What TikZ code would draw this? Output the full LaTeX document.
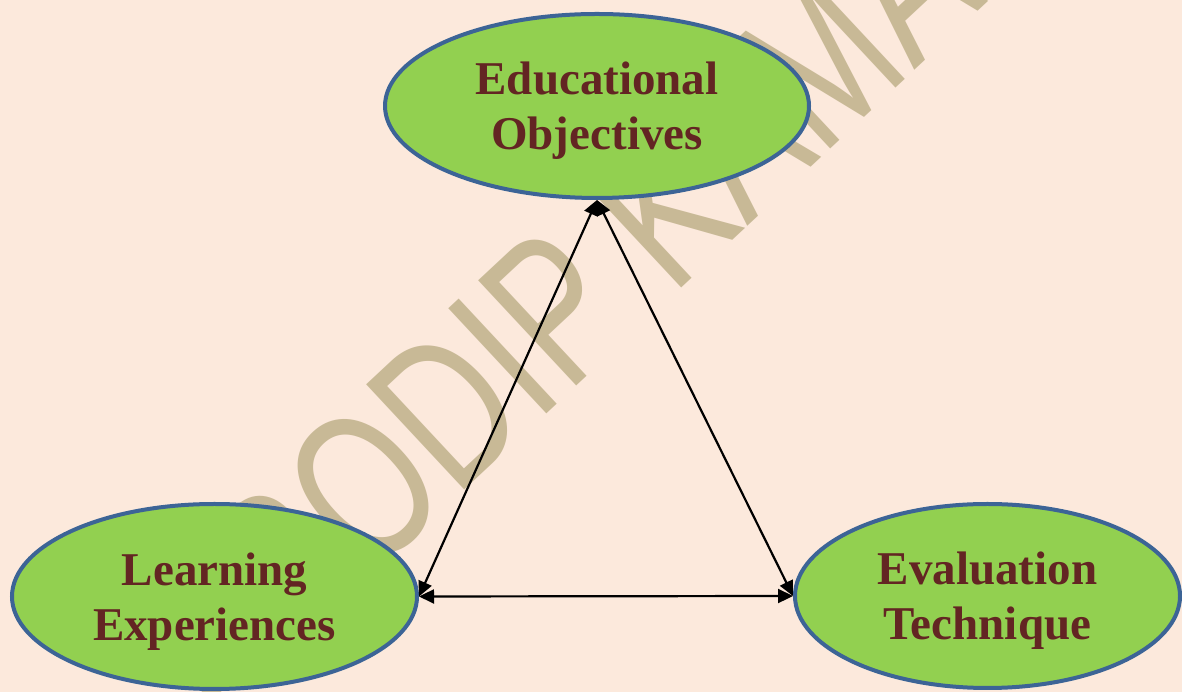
\documentclass[tikz,border=0pt]{standalone}
\usepackage{fontspec}
\setmainfont{Liberation Serif}
\newfontfamily\marcafont{Liberation Sans}
\usetikzlibrary{arrows.meta,shapes.geometric}

\definecolor{fondo}{HTML}{FCE9DC}
\definecolor{verde}{HTML}{92D050}
\definecolor{borde}{HTML}{3C6496}
\definecolor{texto}{HTML}{632523}
\definecolor{marca}{HTML}{C8B996}

\tikzset{
  meta/.style={ellipse, draw=borde, line width=4pt, fill=verde, inner sep=0pt,
    text=texto, align=center, font=\fontsize{47}{55}\selectfont\bfseries,
    text depth=-3pt},
  flecha/.style={{Triangle[length=15pt,width=14pt]}-{Triangle[length=15pt,width=14pt]},
    line width=2.2pt}
}

\begin{document}
\begin{tikzpicture}[x=1pt,y=1pt]
% Fondo de la figura
\fill[fondo] (0,0) rectangle (1182,692);
\useasboundingbox (0,0) rectangle (1182,692);

% Marca de agua
\begin{scope}
\clip (0,0) rectangle (1182,692);
\node[anchor=base west, inner sep=0pt, rotate=43, xscale=0.73, text=marca,
  font=\marcafont\fontsize{209}{209}\selectfont] (agua) at (214,-32) {PRODIP KAMA};
\end{scope}

% Las tres elipses
\node[meta, minimum width=424pt, minimum height=184pt] (objetivos) at (597,586)
  {Educational\\Objectives};
\node[meta, minimum width=405pt, minimum height=185pt] (aprendizaje) at (214.5,95.5)
  {Learning\\Experiences};
\node[meta, minimum width=385pt, minimum height=184pt] (evaluacion) at (987.5,96)
  {Evaluation\\Technique};

% Flechas dobles entre elipses
\draw[flecha] (objetivos.south) -- (aprendizaje.east);
\draw[flecha] (objetivos.south) -- (evaluacion.west);
\draw[flecha] (aprendizaje.east) -- (evaluacion.west);
\end{tikzpicture}
\end{document}
